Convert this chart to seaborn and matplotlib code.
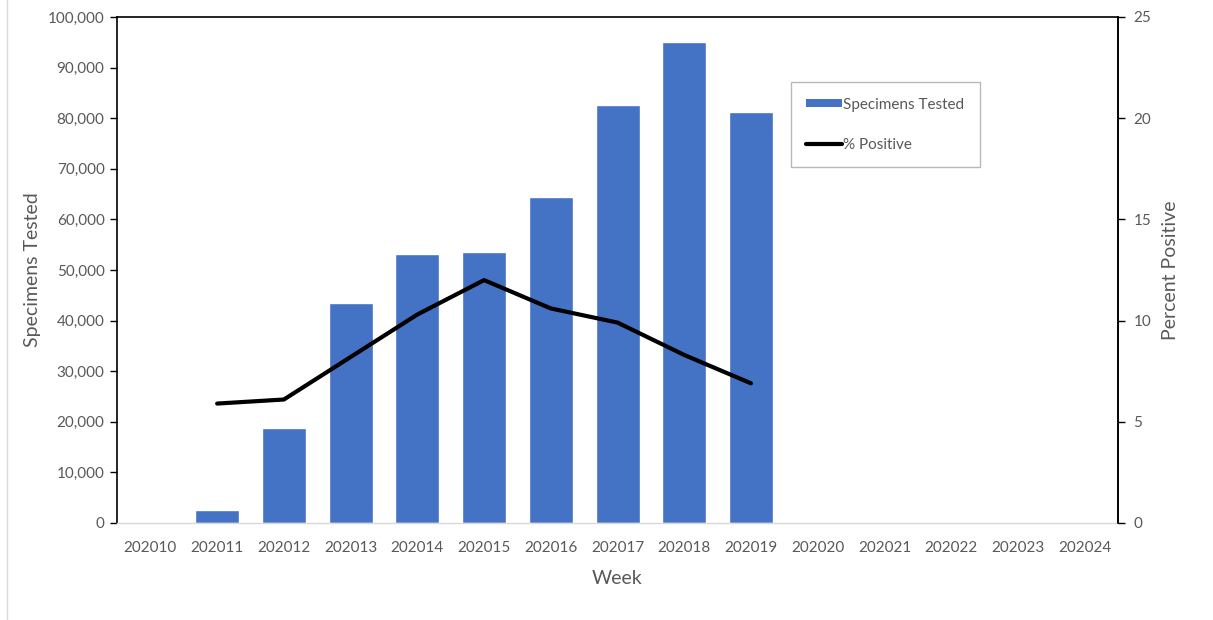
import numpy as np
import pandas as pd
import seaborn as sns
import matplotlib.pyplot as plt
from matplotlib.lines import Line2D
from matplotlib.patches import Patch
from matplotlib.ticker import FuncFormatter

weeks = ["202010", "202011", "202012", "202013", "202014", "202015", "202016",
         "202017", "202018", "202019", "202020", "202021", "202022", "202023", "202024"]
specimens = [np.nan, 2500, 18700, 43400, 53100, 53500, 64400,
             82700, 95000, 81200, np.nan, np.nan, np.nan, np.nan, np.nan]
pct_positive = [np.nan, 5.9, 6.1, 8.2, 10.3, 12.0, 10.6,
                9.9, 8.3, 6.9, np.nan, np.nan, np.nan, np.nan, np.nan]

df = pd.DataFrame({"week": weeks, "specimens": specimens,
                   "pct": pct_positive, "pos": np.arange(len(weeks))})

sns.set_theme(style="white")
plt.rcParams['font.family'] = ['Lato', 'DejaVu Sans']

grey = "#595959"
fig = plt.figure(figsize=(12.13, 6.2), dpi=100)
ax = fig.add_axes([0.0965, 0.1565, 0.8252, 0.8161])

sns.barplot(data=df, x="week", y="specimens", order=weeks, color="#4472C4",
            saturation=1, width=0.66, ax=ax)
ax.set_xlim(-0.5, len(weeks) - 0.5)
ax.set_ylim(0, 100000)
ax.set_yticks(np.arange(0, 100001, 10000))
ax.yaxis.set_major_formatter(FuncFormatter(lambda v, p: f"{int(v):,}"))
ax.set_xlabel("Week", fontsize=14, color=grey, labelpad=11)
ax.set_ylabel("Specimens Tested", fontsize=14, color=grey, labelpad=5)
ax.tick_params(axis="y", left=True, direction="out", length=5, width=1,
               color="black", labelsize=11, labelcolor=grey, pad=4)
ax.tick_params(axis="x", bottom=False, labelsize=11, labelcolor=grey, pad=7)

for side in ["left", "top", "right"]:
    ax.spines[side].set_color("black")
    ax.spines[side].set_linewidth(1.2)
ax.spines["bottom"].set_color("#D9D9D9")
ax.spines["bottom"].set_linewidth(1)

ax2 = ax.twinx()
sns.lineplot(data=df, x="pos", y="pct", color="black", linewidth=3, ax=ax2)
ax2.set_ylim(0, 25)
ax2.set_yticks(np.arange(0, 26, 5))
ax2.set_ylabel("Percent Positive", fontsize=14, color=grey, labelpad=8)
ax2.tick_params(axis="y", right=True, direction="out", length=5, width=1,
                color="black", labelsize=11, labelcolor=grey, pad=6)
for side in ["left", "top", "right", "bottom"]:
    ax2.spines[side].set_visible(False)
ax2.spines["right"].set_visible(True)
ax2.spines["right"].set_color("black")
ax2.spines["right"].set_linewidth(1.2)

handles = [Patch(facecolor="#4472C4", edgecolor="none"),
           Line2D([0], [0], color="black", linewidth=3)]
leg = ax2.legend(handles, ["Specimens Tested", "% Positive"],
                 loc="upper left", bbox_to_anchor=(0.6735, 0.871),
                 frameon=True, fancybox=False, fontsize=11, labelspacing=1.7,
                 borderpad=1.0, handlelength=2.3, handletextpad=0.1,
                 handleheight=0.5, borderaxespad=0)
leg.get_frame().set_edgecolor("#A6A6A6")
leg.get_frame().set_linewidth(1)
for t in leg.get_texts():
    t.set_color(grey)

fig.add_artist(Line2D([0.006, 0.006], [0, 1], color="#D9D9D9", linewidth=1))

fig.savefig("out.png", dpi=100)
